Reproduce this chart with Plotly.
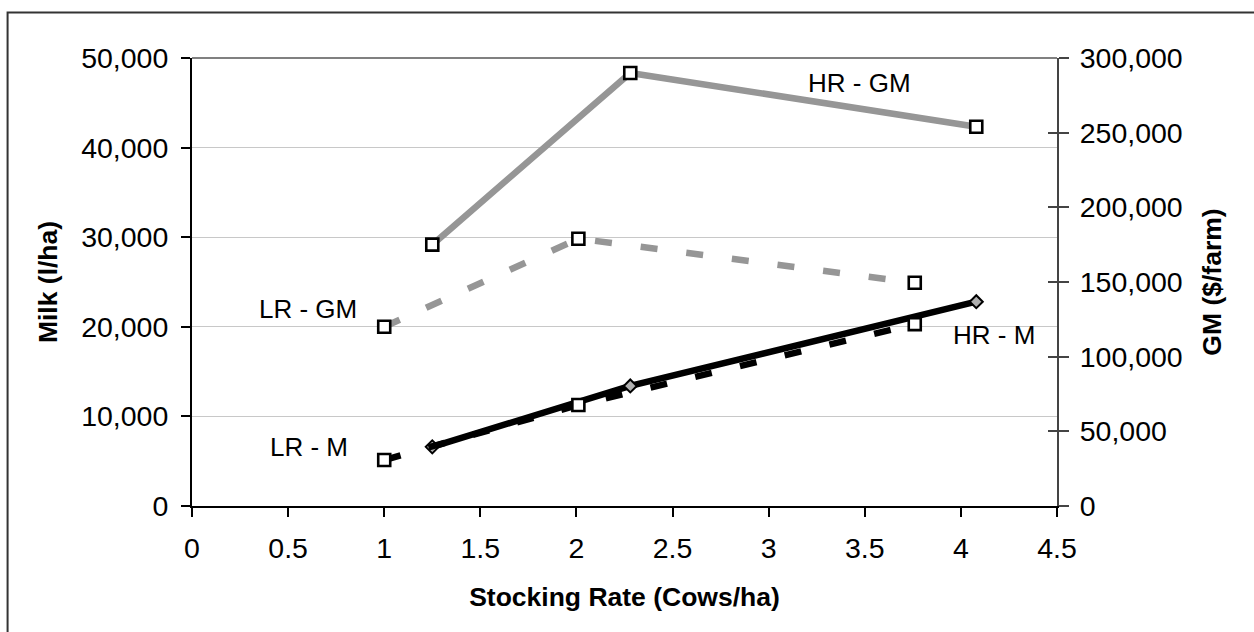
import plotly.graph_objects as go

# ---- data ----
hr_x = [1.25, 2.28, 4.08]
hr_milk = [6600, 13400, 22800]
hr_gm = [175000, 290000, 254000]

lr_x = [1.0, 2.01, 3.76]
lr_milk = [5130, 11270, 20300]
lr_gm = [120000, 179000, 149500]

x_ticks = [0, 0.5, 1, 1.5, 2, 2.5, 3, 3.5, 4, 4.5]

FONT = "Liberation Sans, Arial, sans-serif"
GRAY = "#969696"
DASH = "17px,29px"

square = dict(symbol="square", size=12, color="white",
              line=dict(color="black", width=2.6))

fig = go.Figure()

# HR - M (solid black, grey diamonds)
fig.add_trace(go.Scatter(
    x=hr_x, y=hr_milk, mode="lines+markers", name="HR - M",
    line=dict(color="black", width=6.5),
    marker=dict(symbol="diamond", size=10, color="#b0b0b0",
                line=dict(color="black", width=2)),
    yaxis="y", hoverinfo="skip"))

# LR - M (dashed black, white squares)
fig.add_trace(go.Scatter(
    x=lr_x, y=lr_milk, mode="lines+markers", name="LR - M",
    line=dict(color="black", width=6.5, dash=DASH),
    marker=square, yaxis="y", hoverinfo="skip"))

# LR - GM (dashed grey, secondary axis)
fig.add_trace(go.Scatter(
    x=lr_x, y=lr_gm, mode="lines+markers", name="LR - GM",
    line=dict(color=GRAY, width=6.5, dash=DASH),
    marker=square, yaxis="y2", hoverinfo="skip"))

# HR - GM (solid grey, secondary axis)
fig.add_trace(go.Scatter(
    x=hr_x, y=hr_gm, mode="lines+markers", name="HR - GM",
    line=dict(color=GRAY, width=6.5),
    marker=square, yaxis="y2", hoverinfo="skip"))

# invisible trace to activate the inside-tick overlay axis
fig.add_trace(go.Scatter(x=[None], y=[None], yaxis="y3",
                         showlegend=False, hoverinfo="skip"))

tickfont = dict(family=FONT, size=28.5, color="black")
titlefont = dict(family=FONT, size=26.5, color="black", weight="bold")
labelfont = dict(family=FONT, size=26, color="black")

fig.update_layout(
    width=1254, height=632,
    margin=dict(l=192, r=197, t=58, b=126),
    paper_bgcolor="white", plot_bgcolor="white",
    showlegend=False,
    xaxis=dict(
        range=[0, 4.5], tickvals=x_ticks,
        ticks="outside", ticklen=9, tickwidth=1.5, tickcolor="black",
        ticklabelstandoff=7,
        showline=True, linecolor="black", linewidth=2,
        showgrid=False, zeroline=False,
        tickfont=tickfont,
        title=dict(text="Stocking Rate (Cows/ha)", font=titlefont, standoff=24),
    ),
    yaxis=dict(
        range=[0, 50000], dtick=10000, tickformat=",",
        ticks="outside", ticklen=9, tickwidth=1.5, tickcolor="black",
        ticklabelstandoff=7,
        showline=True, linecolor="black", linewidth=2,
        showgrid=True, gridcolor="#c8c8c8", gridwidth=1.2,
        zeroline=False,
        tickfont=tickfont,
        title=dict(text="Milk (l/ha)", font=titlefont, standoff=16),
    ),
    yaxis2=dict(
        range=[0, 300000], dtick=50000, tickformat=",",
        overlaying="y", side="right", anchor="x",
        ticks="outside", ticklen=10, tickwidth=1.5, tickcolor="#444444",
        ticklabelstandoff=5,
        showline=True, linecolor="#444444", linewidth=2,
        showgrid=False, zeroline=False,
        tickfont=tickfont,
        title=dict(text="GM ($/farm)", font=titlefont, standoff=21),
    ),
    yaxis3=dict(
        range=[0, 300000], dtick=50000,
        overlaying="y", side="right", anchor="x",
        ticks="inside", ticklen=9, tickwidth=1.5, tickcolor="#444444",
        showline=False, showgrid=False, zeroline=False,
        showticklabels=False,
    ),
    shapes=[
        # grey top border of the plot area
        dict(type="line", xref="paper", yref="paper", x0=0, x1=1, y0=1, y1=1,
             line=dict(color="#808080", width=2)),
        # outer chart border (open on the right and bottom edges of the image)
        dict(type="rect", xref="paper", yref="paper",
             x0=-0.2132, x1=1.35, y0=-0.4, y1=1.1015,
             line=dict(color="#333333", width=2), layer="below"),
    ],
    annotations=[
        dict(text="HR - GM", x=3.47, y=47234, xref="x", yref="y",
             showarrow=False, font=labelfont),
        dict(text="LR - GM", x=0.605, y=21972, xref="x", yref="y",
             showarrow=False, font=labelfont),
        dict(text="LR - M", x=0.607, y=6614, xref="x", yref="y",
             showarrow=False, font=labelfont),
        dict(text="HR - M", x=4.174, y=19072, xref="x", yref="y",
             showarrow=False, font=labelfont),
    ],
)

fig.write_html("out.html")
